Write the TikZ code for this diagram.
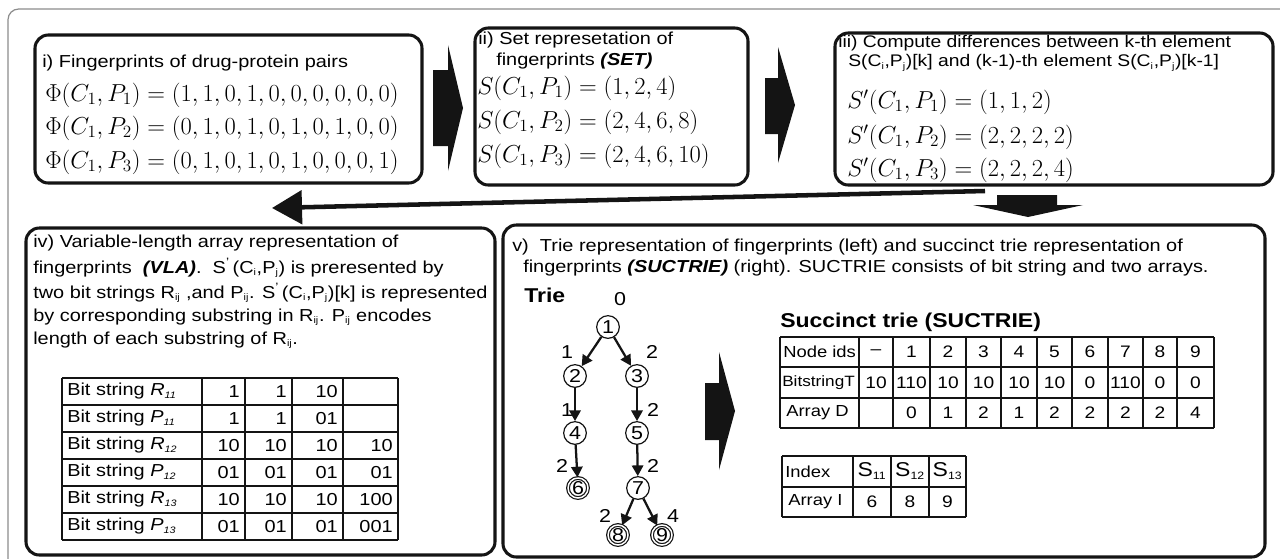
\RequirePackage{fix-cm}
\documentclass[tikz,border=0pt]{standalone}
\usepackage[no-math]{fontspec}
\setmainfont[FakeStretch=1.15]{Liberation Sans}
\usetikzlibrary{arrows.meta}
\newcommand\tsub[1]{\textsubscript{\fontsize{7}{7}\selectfont #1}}
\tikzset{
  box/.style={draw=black!92, line width=2.3pt, rounded corners=10pt},
  frame/.style={draw=black!45, line width=0.9pt, rounded corners=8pt},
  txt/.style={anchor=west, inner sep=0, font=\fontsize{13}{15}\selectfont},
  mth/.style={anchor=west, inner sep=0, font=\fontsize{18.4}{21}\selectfont},
  blk/.style={fill=black!92, draw=none},
  tnode/.style={circle, draw=black!92, line width=0.9pt, minimum size=17pt, inner sep=0, font=\fontsize{14}{14}\selectfont},
  tleaf/.style={tnode, minimum size=15pt, double, double distance=1.1pt},
  tedge/.style={draw=black!92, line width=1.7pt, -{Triangle[length=8pt,width=8.5pt]}},
  elab/.style={inner sep=0, font=\fontsize{14}{14}\selectfont},
  cell/.style={inner sep=0, font=\fontsize{12.5}{14}\selectfont},
  cellw/.style={inner sep=0, anchor=west, font=\fontsize{12}{14}\selectfont},
  celle/.style={inner sep=0, anchor=east, font=\fontsize{13}{15}\selectfont},
  tbl/.style={draw=black!92, line width=1.1pt},
  head/.style={anchor=west, inner sep=0, font=\fontsize{15}{17}\bfseries\selectfont},
  longarrow/.style={draw=black!92, line width=3.4pt, -{Triangle[length=22.5pt,width=25pt]}},
}
\begin{document}
\begin{tikzpicture}[x=0.75pt,y=-0.75pt]
\useasboundingbox (0,0) rectangle (1280,558);
% outer frame
\draw[frame] (8,575) -- (8,9) -- (1300,9);
% boxes
\coordinate (b1nw) at (35,35);  \coordinate (b1se) at (422,183);
\coordinate (b2nw) at (475,28); \coordinate (b2se) at (748,185);
\coordinate (b3nw) at (835,33); \coordinate (b3se) at (1273,185);
\coordinate (b4nw) at (26,228); \coordinate (b4se) at (495,555);
\coordinate (b5nw) at (503,225); \coordinate (b5se) at (1265,557);
\draw[box] (b1nw) rectangle (b1se);
\draw[box] (b2nw) rectangle (b2se);
\draw[box] (b3nw) rectangle (b3se);
\draw[box] (b4nw) rectangle (b4se);
\draw[box] (b5nw) rectangle (b5se);
% block arrows
\fill[blk] (433,70) -- (448,70) -- (448,45) -- (463,108) -- (448,171) -- (448,146) -- (433,146) -- cycle;
\fill[blk] (765,78) -- (778,78) -- (778,47) -- (795,105) -- (778,163) -- (778,134) -- (765,134) -- cycle;
\fill[blk] (997,195) -- (1057,195) -- (1057,205) -- (1083,205) -- (1028,217) -- (973,205) -- (997,205) -- cycle;
\fill[blk] (705,383) -- (719,383) -- (719,352) -- (735,411) -- (719,470) -- (719,440) -- (705,440) -- cycle;
% long arrow
\coordinate (la1) at (985,191);
\coordinate (la2) at (272,208);
\draw[longarrow] (la1) -- (la2);
% box i
\node[txt] (t1) at (42,63) {i) Fingerprints of drug-protein pairs};
\node[mth] (m11) at (45,95) {$\Phi(C_1,P_1)=(1,1,0,1,0,0,0,0,0,0)$};
\node[mth] (m12) at (45,128) {$\Phi(C_1,P_2)=(0,1,0,1,0,1,0,1,0,0)$};
\node[mth] (m13) at (45,162) {$\Phi(C_1,P_3)=(0,1,0,1,0,1,0,0,0,1)$};
% box ii
\node[txt] (t2a) at (478,40) {ii) Set represetation of};
\node[txt] (t2b) at (496,61) {fingerprints \textbf{\textit{(SET)}}};
\node[mth] (m21) at (477,88) {$S(C_1,P_1)=(1,2,4)$};
\node[mth] (m22) at (477,122) {$S(C_1,P_2)=(2,4,6,8)$};
\node[mth] (m23) at (477,156) {$S(C_1,P_3)=(2,4,6,10)$};
% box iii
\node[txt, font=\fontsize{12.6}{15}\selectfont] (t3a) at (838,43) {iii) Compute differences between k-th element};
\node[txt, font=\fontsize{12.6}{15}\selectfont] (t3b) at (848,63) {S(C\tsub{i},P\tsub{j})[k] and (k-1)-th element S(C\tsub{i},P\tsub{j})[k-1]};
\node[mth] (m31) at (847,102) {$S'(C_1,P_1)=(1,1,2)$};
\node[mth] (m32) at (847,137) {$S'(C_1,P_2)=(2,2,2,2)$};
\node[mth] (m33) at (847,170) {$S'(C_1,P_3)=(2,2,2,4)$};
% box iv
\node[txt] (t4a) at (33,243) {iv) Variable-length array representation of};
\node[txt] (t4b) at (33,268) {fingerprints\ \ \textbf{\textit{(VLA)}}.\ \ S\textsuperscript{'}\,(C\tsub{i},P\tsub{j}) is preresented by};
\node[txt] (t4c) at (33,293) {two bit strings R\tsub{ij} ,and P\tsub{ij}. S\textsuperscript{'}\,(C\tsub{i},P\tsub{j})[k] is represented};
\node[txt] (t4d) at (33,317) {by corresponding substring in R\tsub{ij}. P\tsub{ij} encodes};
\node[txt] (t4e) at (33,340) {length of each substring of R\tsub{ij}.};
% VLA table
\foreach \y in {378,405,432,459,486,513,540} \draw[tbl] (62,\y) -- (398,\y);
\foreach \x in {62,202,245,292,343,398} \draw[tbl] (\x,378) -- (\x,540);
\foreach \lab/\sub/\a/\b/\c/\d [count=\k] in {R/11/1/1/10/{},P/11/1/1/01/{},R/12/10/10/10/10,P/12/01/01/01/01,R/13/10/10/10/100,P/13/01/01/01/001}{
  \pgfmathsetmacro{\yc}{378+27*(\k-1)+13.5}
  \node[anchor=west, inner sep=0, font=\fontsize{13}{15}\selectfont] (vl\k) at (67,\yc) {Bit string \textit{\lab}\tsub{\textit{\sub}}};
  \node[celle] (va\k) at (240,\yc) {\a};
  \node[celle] (vb\k) at (287,\yc) {\b};
  \node[celle] (vc\k) at (338,\yc) {\c};
  \node[celle] (vd\k) at (393,\yc) {\d};
}
% box v
\node[txt] (t5a) at (512,247) {v)\ \ Trie representation of fingerprints (left) and succinct trie representation of};
\node[txt] (t5b) at (523,268) {fingerprints \textbf{\textit{(SUCTRIE)}} (right). SUCTRIE consists of bit string and two arrays.};
\node[head] (trie) at (524,295) {Trie};
% trie
\node[elab] (root0) at (620,299) {0};
\node[tnode] (n1) at (608,327) {1};
\node[tnode] (n2) at (575,376) {2};
\node[tnode] (n3) at (637,376) {3};
\node[tnode] (n4) at (575,433) {4};
\node[tnode] (n5) at (637,433) {5};
\node[tleaf] (n6) at (578,488) {6};
\node[tnode] (n7) at (638,488) {7};
\node[tleaf] (n8) at (618,535) {8};
\node[tleaf] (n9) at (662,535) {9};
\draw[tedge] (n1) -- (n2);
\draw[tedge] (n1) -- (n3);
\draw[tedge] (n2) -- (n4);
\draw[tedge] (n3) -- (n5);
\draw[tedge] (n4) -- (n6);
\draw[tedge] (n5) -- (n7);
\draw[tedge] (n7) -- (n8);
\draw[tedge] (n7) -- (n9);
\node[elab] (e12) at (567,352) {1};
\node[elab] (e13) at (652,352) {2};
\node[elab] (e24) at (567,410) {1};
\node[elab] (e35) at (653,410) {2};
\node[elab] (e46) at (562,466) {2};
\node[elab] (e57) at (653,466) {2};
\node[elab] (e78) at (605,516) {2};
\node[elab] (e79) at (673,516) {4};
% succinct trie
\node[head] (suc) at (780,322) {Succinct trie (SUCTRIE)};
\foreach \y in {337,367,398,428} \draw[tbl] (780,\y) -- (1214,\y);
\foreach \x in {780,859,893,930,966,1001,1037,1072,1108,1143,1177,1214} \draw[tbl] (\x,337) -- (\x,428);
\node[cellw] (h1) at (783,352) {Node ids};
\node[cellw, font=\fontsize{11.2}{14}\selectfont] (h2) at (782,383) {BitstringT};
\node[cellw] (h3) at (786,413) {Array D};
\foreach \cx/\a/\b/\c [count=\k] in {876/\textendash/10/{},911.5/1/110/0,948/2/10/1,983.5/3/10/2,1019/4/10/1,1054.5/5/10/2,1090/6/0/2,1125.5/7/110/2,1160/8/0/2,1195.5/9/0/4}{
  \node[cell] (na\k) at (\cx,352) {\a};
  \node[cell] (nb\k) at (\cx,383) {\b};
  \node[cell] (nc\k) at (\cx,413) {\c};
}
% index table
\foreach \y in {456,487,517} \draw[tbl] (782,\y) -- (966,\y);
\foreach \x in {782,853,891,929,966} \draw[tbl] (\x,456) -- (\x,517);
\node[cellw] (ih1) at (785,472) {Index};
\node[cellw] (ih2) at (788,502) {Array I};
\foreach \cx/\s/\v [count=\k] in {872/11/6,910/12/8,947.5/13/9}{
  \node[inner sep=0, font=\fontsize{15}{16}\selectfont] (is\k) at (\cx,471) {S\textsubscript{\fontsize{8}{8}\selectfont\s}};
  \node[cell] (iv\k) at (\cx,502) {\v};
}
\end{tikzpicture}
\end{document}
